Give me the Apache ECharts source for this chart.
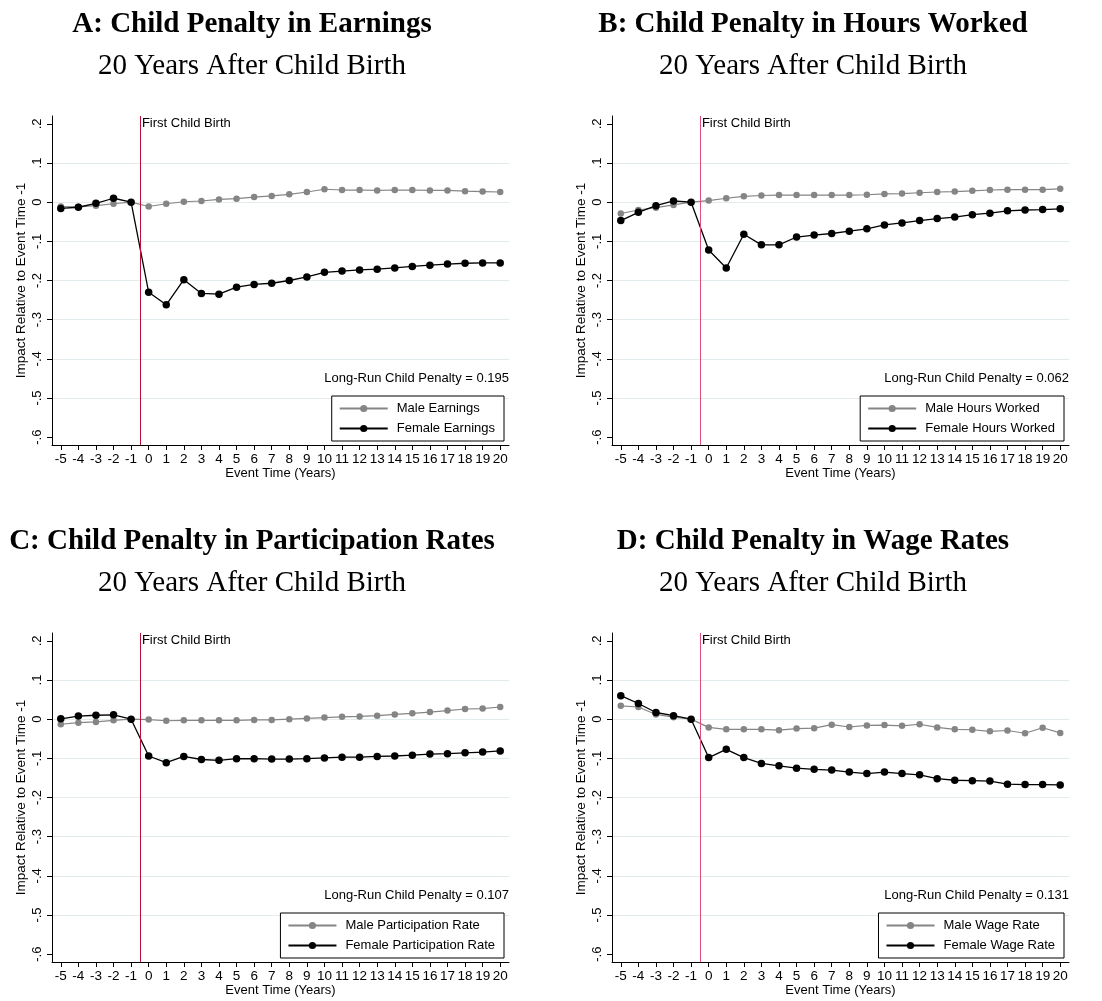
<!DOCTYPE html>
<html>
<head>
<meta charset="utf-8">
<script src="https://cdn.jsdelivr.net/npm/echarts@6/dist/echarts.min.js"></script>
<style>
  html, body { margin: 0; padding: 0; background: #fff; }
  #main { width: 1102px; height: 1001px; }
</style>
</head>
<body>
<div id="main"></div>
<script>
// event time (years relative to first child birth)
var eventTime = [-5, -4, -3, -2, -1, 0, 1, 2, 3, 4, 5, 6, 7, 8, 9, 10, 11, 12, 13, 14, 15, 16, 17, 18, 19, 20];
var yTicks = [0.2, 0.1, 0, -0.1, -0.2, -0.3, -0.4, -0.5, -0.6];
var yGrid = [0.1, 0, -0.1, -0.2, -0.3, -0.4, -0.5];

// A: earnings
var maleEarnings = [-0.011, -0.012, -0.009, -0.004, 0, -0.011, -0.004, 0.001, 0.003, 0.007, 0.009, 0.013, 0.016, 0.020, 0.026, 0.033, 0.031, 0.031, 0.030, 0.031, 0.031, 0.030, 0.030, 0.028, 0.027, 0.026];
var femaleEarnings = [-0.016, -0.013, -0.003, 0.010, 0, -0.230, -0.262, -0.198, -0.233, -0.235, -0.217, -0.210, -0.207, -0.200, -0.191, -0.179, -0.176, -0.173, -0.171, -0.168, -0.164, -0.161, -0.158, -0.156, -0.155, -0.155];
// B: hours worked
var maleHours = [-0.029, -0.020, -0.014, -0.007, 0, 0.004, 0.010, 0.015, 0.017, 0.018, 0.018, 0.018, 0.018, 0.018, 0.019, 0.021, 0.022, 0.024, 0.026, 0.027, 0.029, 0.031, 0.032, 0.032, 0.032, 0.034];
var femaleHours = [-0.047, -0.026, -0.009, 0.003, 0, -0.122, -0.168, -0.082, -0.109, -0.109, -0.089, -0.084, -0.080, -0.074, -0.068, -0.058, -0.053, -0.047, -0.042, -0.038, -0.032, -0.028, -0.022, -0.020, -0.019, -0.017];
// C: participation
var maleParticipation = [-0.013, -0.009, -0.007, -0.003, 0, -0.001, -0.004, -0.003, -0.003, -0.003, -0.003, -0.002, -0.002, 0, 0.002, 0.004, 0.006, 0.007, 0.009, 0.012, 0.015, 0.018, 0.022, 0.026, 0.027, 0.031];
var femaleParticipation = [0.001, 0.008, 0.010, 0.011, 0, -0.094, -0.111, -0.095, -0.103, -0.105, -0.101, -0.101, -0.102, -0.102, -0.101, -0.099, -0.097, -0.097, -0.095, -0.094, -0.092, -0.089, -0.088, -0.086, -0.084, -0.081];
// D: wage rates
var maleWage = [0.034, 0.031, 0.012, 0.005, 0, -0.021, -0.026, -0.026, -0.026, -0.028, -0.024, -0.023, -0.014, -0.020, -0.016, -0.015, -0.017, -0.013, -0.021, -0.026, -0.027, -0.031, -0.029, -0.036, -0.022, -0.035];
var femaleWage = [0.060, 0.040, 0.017, 0.009, 0, -0.098, -0.077, -0.098, -0.113, -0.119, -0.125, -0.128, -0.130, -0.135, -0.139, -0.135, -0.139, -0.142, -0.152, -0.156, -0.157, -0.158, -0.166, -0.167, -0.167, -0.168];

var panelTitles = ['A: Child Penalty in Earnings', 'B: Child Penalty in Hours Worked', 'C: Child Penalty in Participation Rates', 'D: Child Penalty in Wage Rates'];
var subTitle = '20 Years After Child Birth';
var maleNames = ['Male Earnings', 'Male Hours Worked', 'Male Participation Rate', 'Male Wage Rate'];
var femaleNames = ['Female Earnings', 'Female Hours Worked', 'Female Participation Rate', 'Female Wage Rate'];
var penalties = ['0.195', '0.062', '0.107', '0.131'];
var maleSeries = [maleEarnings, maleHours, maleParticipation, maleWage];
var femaleSeries = [femaleEarnings, femaleHours, femaleParticipation, femaleWage];

var SANS = 'Liberation Sans, Arial, sans-serif';
var SERIF = 'Liberation Serif, Times New Roman, serif';
var birthLineColor = ['#b8123c', '#e0507a', '#b8123c', '#e0507a'];

// layout of the 2x2 panels
var panels = [
  { left: 52, top: 116, titleX: 252, titleY: 25 },
  { left: 612, top: 116, titleX: 813, titleY: 25 },
  { left: 52, top: 633, titleX: 252, titleY: 542 },
  { left: 612, top: 633, titleX: 813, titleY: 542 }
];
var plotW = 457, plotH = 329;
var xMin = -5.5, xMax = 20.5, yMin = -0.62, yMax = 0.22;

function pairs(vals) {
  return eventTime.map(function (t, i) { return [t, vals[i]]; });
}
function yLabel(v) {
  if (Math.abs(v) < 1e-9) return '0';
  return String(Math.round(v * 10) / 10).replace('0.', '.');
}

var chart = echarts.init(document.getElementById('main'));
var grids = [], xAxes = [], yAxes = [], series = [], legends = [], graphics = [];

panels.forEach(function (p, i) {
  grids.push({ left: p.left, top: p.top, width: plotW, height: plotH });

  xAxes.push({
    type: 'value', gridIndex: i, min: xMin, max: xMax,
    axisLine: { show: true, onZero: false, lineStyle: { color: '#000', width: 1 } },
    axisTick: { show: true, customValues: eventTime, length: 5, lineStyle: { color: '#000' } },
    axisLabel: { customValues: eventTime, color: '#000', fontSize: 13.5, fontFamily: SANS, margin: 7 },
    splitLine: { show: false },
    name: 'Event Time (Years)', nameLocation: 'middle', nameGap: 21,
    nameTextStyle: { color: '#000', fontSize: 13, fontFamily: SANS }
  });

  yAxes.push({
    type: 'value', gridIndex: i, min: yMin, max: yMax, position: 'left',
    axisLine: { show: true, onZero: false, lineStyle: { color: '#000', width: 1 } },
    axisTick: { show: true, customValues: yTicks, length: 5, lineStyle: { color: '#000' } },
    axisLabel: { customValues: yTicks, rotate: 90, formatter: yLabel, color: '#000', fontSize: 13, fontFamily: SANS, margin: 8 },
    splitLine: { show: false },
    name: 'Impact Relative to Event Time -1', nameLocation: 'middle', nameGap: 24,
    nameTextStyle: { color: '#000', fontSize: 13.5, fontFamily: SANS }
  });
  // second axis only for the light gridlines
  yAxes.push({
    type: 'value', gridIndex: i, min: yMin, max: yMax, position: 'left',
    axisLine: { show: false, onZero: false },
    axisTick: { show: false, customValues: yGrid },
    axisLabel: { show: false },
    splitLine: { show: true, lineStyle: { color: '#e3ebee', width: 1 } }
  });

  series.push({
    name: maleNames[i], type: 'line', xAxisIndex: i, yAxisIndex: 2 * i,
    data: pairs(maleSeries[i]),
    symbol: 'circle', symbolSize: 6.5, color: '#858585',
    lineStyle: { color: '#858585', width: 1.2 },
    itemStyle: { color: '#858585' }, z: 2
  });
  series.push({
    name: femaleNames[i], type: 'line', xAxisIndex: i, yAxisIndex: 2 * i,
    data: pairs(femaleSeries[i]),
    symbol: 'circle', symbolSize: 7.5, color: '#000',
    lineStyle: { color: '#000', width: 1.3 },
    itemStyle: { color: '#000' }, z: 3,
    markLine: {
      silent: true, symbol: ['none', 'none'], animation: false,
      label: { show: false },
      lineStyle: { color: birthLineColor[i], width: 1, type: 'solid' },
      data: [{ xAxis: -0.5 }]
    }
  });

  legends.push({
    data: [maleNames[i], femaleNames[i]],
    orient: 'vertical', selectedMode: false,
    right: 1102 - (p.left + plotW - 5), top: p.top + 280,
    backgroundColor: '#fff', borderColor: '#000', borderWidth: 1,
    padding: [6, 9, 6, 7], itemGap: 7, itemWidth: 48, itemHeight: 9,
    textStyle: { color: '#000', fontSize: 13, fontFamily: SANS, padding: [0, 0, 0, 4] }
  });

  var lineX = p.left + (-0.5 - xMin) / (xMax - xMin) * plotW;
  var yPix = function (v) { return p.top + (yMax - v) / (yMax - yMin) * plotH; };
  graphics.push({
    type: 'text', x: lineX + 2, y: yPix(0.2), silent: true,
    style: { text: 'First Child Birth', fill: '#000', font: '13px ' + SANS, align: 'left', verticalAlign: 'middle' }
  });
  graphics.push({
    type: 'text', x: p.left + plotW, y: yPix(-0.45), silent: true,
    style: { text: 'Long-Run Child Penalty = ' + penalties[i], fill: '#000', font: '13px ' + SANS, align: 'right', verticalAlign: 'middle' }
  });
  graphics.push({
    type: 'text', x: p.titleX, y: p.titleY, silent: true,
    style: { text: panelTitles[i], fill: '#000', font: 'bold 29px ' + SERIF, align: 'center', verticalAlign: 'middle' }
  });
  graphics.push({
    type: 'text', x: p.titleX, y: p.titleY + 41, silent: true,
    style: { text: subTitle, fill: '#000', font: '29px ' + SERIF, align: 'center', verticalAlign: 'middle' }
  });
});

chart.setOption({
  backgroundColor: '#fff',
  animation: false,
  grid: grids,
  xAxis: xAxes,
  yAxis: yAxes,
  legend: legends,
  series: series,
  graphic: graphics
});
</script>
</body>
</html>
